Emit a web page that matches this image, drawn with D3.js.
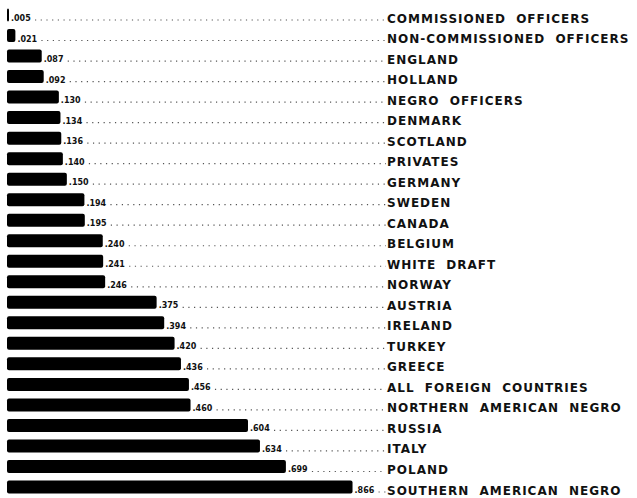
<!DOCTYPE html>
<html lang="en">
<head>
<meta charset="utf-8">
<style>
  body { margin: 0; background: white; }
  svg { background: white; display: block; }
  .label { font-family: 'DejaVu Sans', sans-serif; font-weight: bold; font-size: 12px; letter-spacing: 1px; word-spacing: 5px; fill: #111; }
  .num { font-family: 'DejaVu Sans', sans-serif; font-weight: bold; font-size: 8px; fill: #111; }
  .leader { stroke: #555; stroke-width: 1.2; stroke-dasharray: 1.2,4.5; }
</style>
</head>
<body>
<svg width="637" height="498"></svg>
<script src="https://d3js.org/d3.v7.min.js"></script>
<script>
// groups, top to bottom
const groups = [
  "COMMISSIONED OFFICERS", "NON-COMMISSIONED OFFICERS", "ENGLAND", "HOLLAND",
  "NEGRO OFFICERS", "DENMARK", "SCOTLAND", "PRIVATES", "GERMANY", "SWEDEN",
  "CANADA", "BELGIUM", "WHITE DRAFT", "NORWAY", "AUSTRIA", "IRELAND", "TURKEY",
  "GREECE", "ALL FOREIGN COUNTRIES", "NORTHERN AMERICAN NEGRO", "RUSSIA",
  "ITALY", "POLAND", "SOUTHERN AMERICAN NEGRO"
]
// share of each group
const values = [
  0.005, 0.021, 0.087, 0.092, 0.130, 0.134, 0.136, 0.140, 0.150, 0.194,
  0.195, 0.240, 0.241, 0.246, 0.375, 0.394, 0.420, 0.436, 0.456, 0.460,
  0.604, 0.634, 0.699, 0.866
]

const data = groups.map((g, i) => ({ name: g, value: values[i] }))

const svg = d3.select("svg")
const x = d3.scaleLinear().domain([0, 1]).range([7, 406])
const y = d3.scalePoint().domain(groups).range([15, 487])
const barH = 13
const labelX = 387
const fmt = v => d3.format(".3f")(v).replace(/^0/, "")

const row = svg.selectAll("g.row")
  .data(data)
  .join("g")
  .attr("class", "row")

row.append("rect")
  .attr("x", x(0))
  .attr("y", d => y(d.name) - barH / 2)
  .attr("width", d => Math.max(2, x(d.value) - x(0)))
  .attr("height", barH)
  .attr("rx", 2)
  .attr("fill", "#000")

row.append("text")
  .attr("class", "num")
  .attr("x", d => x(d.value) + 2)
  .attr("y", d => y(d.name) + 6)
  .text(d => fmt(d.value))

row.append("line")
  .attr("class", "leader")
  .attr("x1", d => x(d.value) + 26)
  .attr("x2", labelX - 1)
  .attr("y1", d => y(d.name) + 5)
  .attr("y2", d => y(d.name) + 5)

row.append("text")
  .attr("class", "label")
  .attr("x", labelX)
  .attr("y", d => y(d.name) + 7.5)
  .text(d => d.name)
</script>
</body>
</html>
